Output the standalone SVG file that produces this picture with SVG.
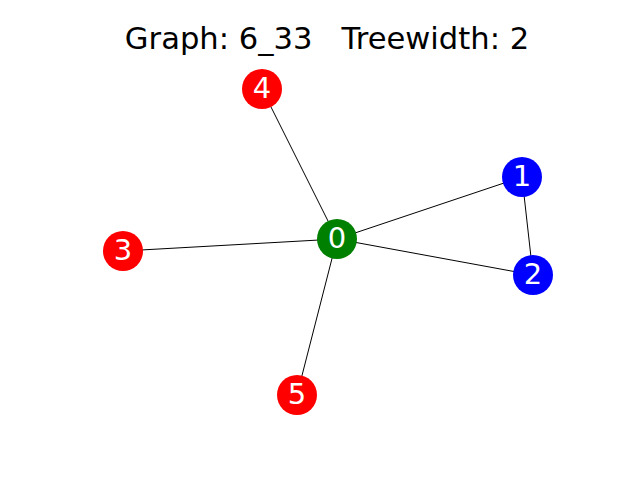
<svg xmlns="http://www.w3.org/2000/svg" width="640" height="480" viewBox="0 0 640 480">
  <style>
    .edge { stroke: #000; stroke-width: 1; fill: none; }
    .lbl { font-family: "DejaVu Sans", sans-serif; font-size: 29px; fill: #fff; text-anchor: middle; dominant-baseline: central; }
    .title { font-family: "DejaVu Sans", sans-serif; font-size: 30.6px; fill: #000; text-anchor: middle; }
  </style>
  <rect width="640" height="480" fill="#fff"/>
  <text class="title" x="327" y="49" xml:space="preserve">Graph: 6_33   Treewidth: 2</text>
  <g id="edges">
    <line class="edge" x1="337" y1="239" x2="522" y2="177"/>
    <line class="edge" x1="337" y1="239" x2="533" y2="275"/>
    <line class="edge" x1="337" y1="239" x2="123" y2="251"/>
    <line class="edge" x1="337" y1="239" x2="262" y2="89"/>
    <line class="edge" x1="337" y1="239" x2="297" y2="395"/>
    <line class="edge" x1="522" y1="177" x2="533" y2="275"/>
  </g>
  <g id="node0"><circle cx="337" cy="239" r="20" fill="#008000"/><text class="lbl" x="337" y="238">0</text></g>
  <g id="node1"><circle cx="522" cy="177" r="20" fill="#0000ff"/><text class="lbl" x="522" y="176">1</text></g>
  <g id="node2"><circle cx="533" cy="275" r="20" fill="#0000ff"/><text class="lbl" x="533" y="274">2</text></g>
  <g id="node3"><circle cx="123" cy="251" r="20" fill="#ff0000"/><text class="lbl" x="123" y="250">3</text></g>
  <g id="node4"><circle cx="262" cy="89" r="20" fill="#ff0000"/><text class="lbl" x="262" y="88">4</text></g>
  <g id="node5"><circle cx="297" cy="395" r="20" fill="#ff0000"/><text class="lbl" x="297" y="394">5</text></g>
</svg>
